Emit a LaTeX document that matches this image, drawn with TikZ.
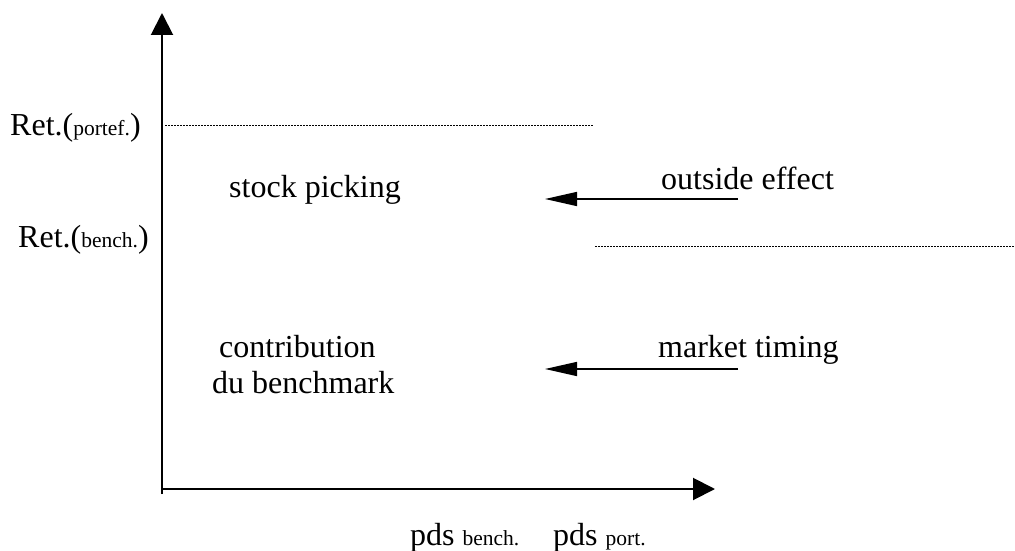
\documentclass[tikz,border=0pt]{standalone}
\usepackage{fontspec}
\setmainfont{Liberation Serif}
\usetikzlibrary{arrows.meta}

\newcommand{\bigtxt}{\fontsize{32}{36}\selectfont}
\newcommand{\smalltxt}[1]{{\fontsize{21.5}{24}\selectfont #1}}

\tikzset{
  axisline/.style={line width=2pt, -{Triangle[length=22pt, width=22pt]}},
  effectarrow/.style={line width=1.5pt, -{Triangle[length=32pt, width=14pt]}},
  retline/.style={line width=1.5pt, dash pattern=on 1.6pt off 1.4pt},
  lbl/.style={anchor=base west, inner sep=0pt, font=\bigtxt}
}

\begin{document}
\begin{tikzpicture}
                \tikzset{x={(1pt, 0pt)}, y={(0pt, -1pt)}}
                \useasboundingbox (0, 0) rectangle (1015, 551);
                % axes
                \coordinate (origin) at (162, 494);
                \coordinate (ytip)   at (162, 13);
                \coordinate (xstart) at (161, 489);
                \coordinate (xtip)   at (715, 489);
                \draw[axisline] (origin) -- (ytip);
                \draw[axisline] (xstart) -- (xtip);
                % return levels
                \coordinate (portA)  at (165, 125.5);
                \coordinate (portB)  at (593, 125.5);
                \coordinate (benchA) at (595, 246.5);
                \coordinate (benchB) at (1015, 246.5);
                \draw[retline] (portA) -- (portB);
                \draw[retline] (benchA) -- (benchB);
                \node[lbl] (retport)  at (10, 135) {Ret.(\smalltxt{portef.})};
                \node[lbl] (retbench) at (18, 247) {Ret.(\smalltxt{bench.})};
                % areas
                \node[lbl] (picking) at (229, 197) {stock picking};
                \node[lbl] (contrib) at (219, 357) {contribution};
                \node[lbl] (bmark)   at (212, 393) {du benchmark};
                % effects
                \node[lbl] (outside) at (661, 189) {outside effect};
                \node[lbl] (timing)  at (658, 357) {market timing};
                \coordinate (outA) at (738, 199);
                \coordinate (outB) at (545, 199);
                \coordinate (timA) at (738, 369);
                \coordinate (timB) at (545, 369);
                \draw[effectarrow] (outA) -- (outB);
                \draw[effectarrow] (timA) -- (timB);
                % weights
                \node[lbl] (pdsbench) at (410, 545) {pds \smalltxt{bench.}};
                \node[lbl] (pdsport)  at (553, 545) {pds \smalltxt{port.}};
\end{tikzpicture}
\end{document}
